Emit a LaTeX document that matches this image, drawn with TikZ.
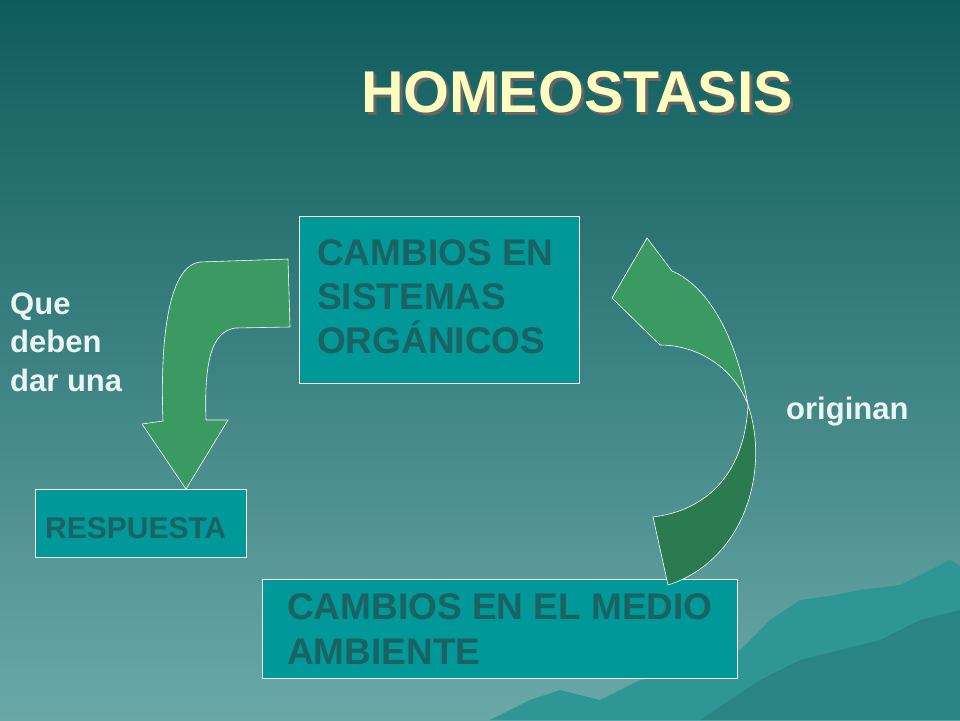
\documentclass[tikz,border=0pt]{standalone}
\usepackage{fontspec}
\setmainfont{Liberation Sans}
\begin{document}
\begin{tikzpicture}[x=1pt,y=-1pt,
  box/.style={draw=white,line width=0.6pt,fill=boxc},
  btxt/.style={text=txtc,font=\bfseries\fontsize{37}{44}\selectfont,anchor=base west,inner sep=0pt},
  wtxt/.style={text=white!92!teal,font=\bfseries\fontsize{31}{38}\selectfont,anchor=base west,inner sep=0pt},
  arr/.style={draw=white,line width=0.6pt}]
\definecolor{bgtop}{HTML}{0F5C5C}
\definecolor{bgbot}{HTML}{6AA8A8}
\definecolor{boxc}{HTML}{009898}
\definecolor{txtc}{HTML}{1B6262}
\definecolor{grA}{HTML}{3A9A62}
\definecolor{grB}{HTML}{2C7A50}
\definecolor{mnt}{HTML}{2F9696}
\shade[top color=bgtop,bottom color=bgbot] (0,0) rectangle (960,720);
\useasboundingbox (0,0) rectangle (960,720);
% mountains
\fill[mnt] (490,720) -- (530,700) -- (560,690) -- (600,700) -- (640,680) -- (700,672) -- (740,650) -- (770,620) -- (800,600) -- (830,596) -- (860,590) -- (900,585) -- (930,570) -- (950,560) -- (960,566) -- (960,720) -- cycle;
\fill[mnt!70!black,opacity=0.4] (700,720) -- (760,680) -- (800,660) -- (840,650) -- (880,640) -- (920,620) -- (960,610) -- (960,720) -- cycle;
% title
\node[text=black!60,font=\bfseries\fontsize{59}{60}\selectfont] at (580,95) {HOMEOSTASIS};
\node[text=yellow!25!white,font=\bfseries\fontsize{59}{60}\selectfont] (title) at (577,92) {HOMEOSTASIS};
% boxes
\draw[box] (299,216) rectangle (579,383);
\node[btxt] (b1a) at (317,265) {CAMBIOS EN};
\node[btxt] (b1b) at (317,309) {SISTEMAS};
\node[btxt] (b1c) at (317,353) {ORGÁNICOS};
\draw[box] (35,489) rectangle (246,557);
\node[text=txtc,font=\bfseries\fontsize{30}{32}\selectfont,anchor=base west,inner sep=0pt] (resp) at (45,538) {RESPUESTA};
\draw[box] (262,579) rectangle (737,678);
\node[btxt] (b2a) at (287,619) {CAMBIOS EN EL MEDIO};
\node[btxt] (b2b) at (287,664) {AMBIENTE};
% labels
\node[wtxt] (que1) at (10,314) {Que};
\node[wtxt] (que2) at (10,352) {deben};
\node[wtxt] (que3) at (10,391) {dar una};
\node[wtxt] (orig) at (786,419) {originan};
% left arrow
\draw[arr,fill=grA] (200,262) -- (288,259) -- (290,327) -- (235,328)
  .. controls (212,332) and (204,360) .. (206,420) -- (228,420) -- (186,489) -- (142,424) -- (163,421)
  .. controls (160,340) and (168,266) .. (200,262) -- cycle;
% right arrow lower part
\draw[arr,fill=grB] (748,405) .. controls (770,470) and (745,560) .. (668,585) -- (653,517)
  .. controls (710,510) and (745,470) .. (748,405) -- cycle;
% upper part
\draw[arr,fill=grA] (748,405) .. controls (735,330) and (705,285) .. (672,271) -- (647,238) -- (612,298) -- (660,345)
  .. controls (700,345) and (735,370) .. (748,405) -- cycle;
\end{tikzpicture}
\end{document}
